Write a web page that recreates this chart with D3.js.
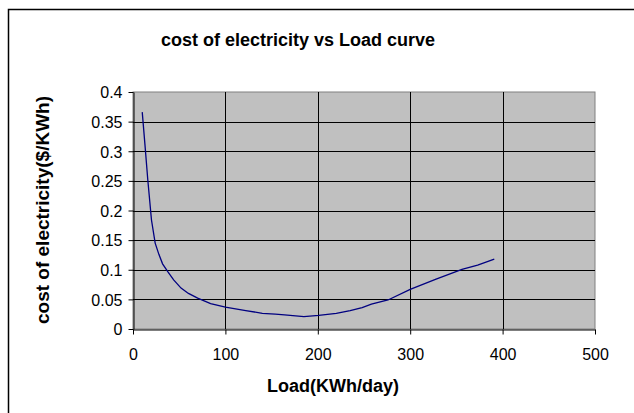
<!DOCTYPE html>
<meta charset="UTF-8">
<style>
  body { margin: 0; background: #fff; }
  text { font-family: "Liberation Sans", Arial, sans-serif; fill: #000; }
  .title { font-size: 18px; font-weight: bold; }
  .axis-title { font-size: 18px; font-weight: bold; }
  .y-title { font-size: 19px; }
  .tick-label { font-size: 16px; }
  .grid line { stroke: #000; stroke-width: 1px; }
</style>
<body>
<svg id="chart" width="634" height="413"></svg>
<script src="https://d3js.org/d3.v7.min.js"></script>
<script>

// Load (KWh/day) against cost of electricity ($/KWh)
var load = [10, 13, 16, 20, 24, 28, 32, 38, 44, 52, 60, 70, 84, 100, 122, 140, 154, 164,
            185, 201, 220, 235, 248, 258, 276, 300, 328, 356, 373, 391];
var cost = [0.366, 0.31, 0.252, 0.184, 0.145, 0.126, 0.110, 0.096, 0.083, 0.069, 0.060, 0.052,
            0.043, 0.037, 0.031, 0.0265, 0.025, 0.024, 0.021, 0.023, 0.0265, 0.031, 0.036, 0.042,
            0.049, 0.067, 0.084, 0.1007, 0.108, 0.118];

var xTicks = [0, 100, 200, 300, 400, 500];
var yTicks = [0, 0.05, 0.1, 0.15, 0.2, 0.25, 0.3, 0.35, 0.4];
var yTickLabels = ["0", "0.05", "0.1", "0.15", "0.2", "0.25", "0.3", "0.35", "0.4"];

function draw() {
  var svg = d3.select("#chart");

  // plot area
  var plot = {left: 133, right: 595, top: 92, bottom: 329};

  var x = d3.scaleLinear().domain([0, 500]).range([plot.left, plot.right]);
  var y = d3.scaleLinear().domain([0, 0.4]).range([plot.bottom, plot.top]);

  // chart frame (right / bottom edges fall outside the picture)
  svg.append("rect")
      .attr("x", 8.5).attr("y", 9.5)
      .attr("width", 700).attr("height", 500)
      .attr("fill", "none")
      .attr("stroke", "#000")
      .attr("stroke-width", 1.5);

  // title
  svg.append("text")
      .attr("class", "title")
      .attr("x", 298).attr("y", 46)
      .attr("text-anchor", "middle")
      .text("cost of electricity vs Load curve");

  // gray plot background
  svg.append("rect")
      .attr("x", plot.left).attr("y", plot.top)
      .attr("width", plot.right - plot.left).attr("height", plot.bottom - plot.top)
      .attr("fill", "#c0c0c0")
      .attr("stroke", "#808080")
      .attr("stroke-width", 1);

  // grid lines
  var grid = svg.append("g").attr("class", "grid");
  grid.selectAll(".h")
      .data(yTicks.slice(1, -1))
    .enter().append("line")
      .attr("x1", plot.left).attr("x2", plot.right)
      .attr("y1", function(d) { return Math.round(y(d)) + 0.5; })
      .attr("y2", function(d) { return Math.round(y(d)) + 0.5; });
  grid.selectAll(".v")
      .data(xTicks.slice(1, -1))
    .enter().append("line")
      .attr("y1", plot.top).attr("y2", plot.bottom)
      .attr("x1", function(d) { return Math.round(x(d)) + 0.5; })
      .attr("x2", function(d) { return Math.round(x(d)) + 0.5; });

  // axes
  var xAxis = d3.axisBottom(x).tickValues(xTicks).tickSize(5).tickSizeOuter(0).tickFormat(d3.format("d"));
  var yAxis = d3.axisLeft(y).tickValues(yTicks).tickSize(5).tickSizeOuter(0)
      .tickFormat(function(d, i) { return yTickLabels[i]; });

  var gx = svg.append("g")
      .attr("transform", "translate(0," + (plot.bottom + 0.5) + ")")
      .call(xAxis);
  var gy = svg.append("g")
      .attr("transform", "translate(" + (plot.left + 0.5) + ",0)")
      .call(yAxis);

  [gx, gy].forEach(function(g) {
    g.attr("font-family", null).attr("font-size", null);
    g.select(".domain").attr("stroke", "#000");
    g.selectAll(".tick line").attr("stroke", "#000");
    g.selectAll(".tick text")
        .attr("class", "tick-label")
        .attr("fill", "#000");
  });
  gx.selectAll(".tick text").attr("y", 19).attr("dy", "0.71em");
  gy.selectAll(".tick text").attr("x", -11).attr("dy", "0.36em");

  // the curve
  var line = d3.line()
      .x(function(d) { return x(d[0]); })
      .y(function(d) { return y(d[1]); });

  svg.append("path")
      .datum(d3.zip(load, cost))
      .attr("fill", "none")
      .attr("stroke", "#000080")
      .attr("stroke-width", 1.3)
      .attr("d", line);

  // axis titles
  svg.append("text")
      .attr("class", "axis-title")
      .attr("x", 333).attr("y", 392)
      .attr("text-anchor", "middle")
      .text("Load(KWh/day)");

  svg.append("text")
      .attr("class", "axis-title y-title")
      .attr("transform", "translate(49,210) rotate(-90)")
      .attr("text-anchor", "middle")
      .text("cost of electricity($/KWh)");
}

draw();

</script>
</body>
